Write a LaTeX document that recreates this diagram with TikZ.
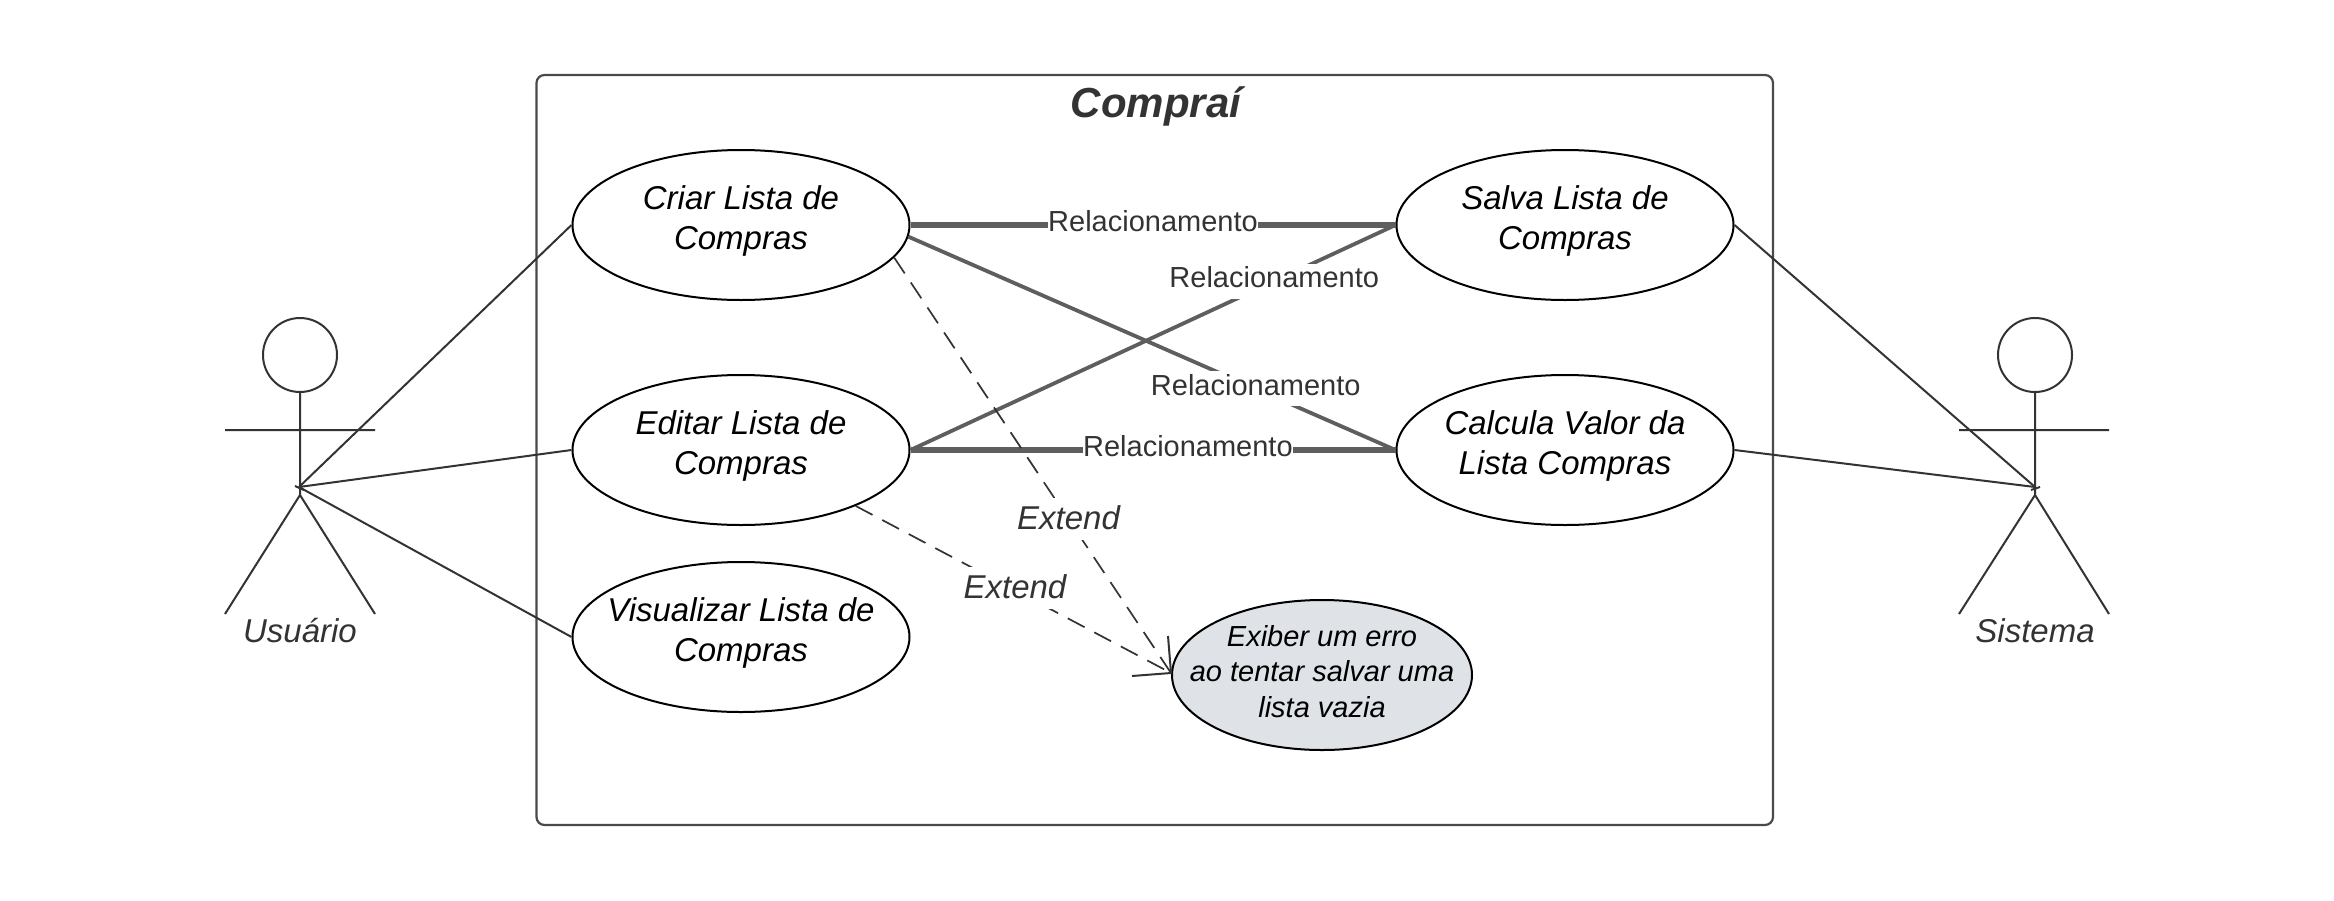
\documentclass[tikz,border=0pt]{standalone}
\usepackage{fontspec}
\setmainfont{Liberation Sans}
\usetikzlibrary{shapes.geometric}
\definecolor{inkdark}{HTML}{333333}
\definecolor{relgray}{HTML}{5E5E5E}
\definecolor{framegray}{HTML}{4A4A4A}
\definecolor{errfill}{HTML}{DFE3E8}
\tikzset{
  usecase/.style={draw=black,line width=1pt,fill=white,ellipse,minimum width=168.5pt,minimum height=75pt,inner xsep=-60pt,inner ysep=-30pt,align=center,
    font=\fontsize{16.5}{20}\selectfont\itshape,text=black,text height=32pt,text depth=8pt},
  errcase/.style={usecase,fill=errfill,minimum width=150pt,text height=50pt,text depth=8pt,font=\fontsize{14.5}{17.7}\selectfont\itshape},
  thinline/.style={draw=inkdark,line width=1pt},
  relline/.style={draw=relgray,line width=2.7pt},
  reldiag/.style={draw=relgray,line width=1.9pt},
  dashline/.style={draw=inkdark,line width=.85pt,dash pattern=on 9.5pt off 5.5pt},
  rellabel/.style={fill=white,inner sep=0pt,text=inkdark,text height=12pt,text depth=5.5pt,font=\fontsize{14.5}{17}\selectfont},
  extlabel/.style={fill=white,inner sep=0pt,text=inkdark,text height=15.5pt,text depth=5.5pt,font=\fontsize{16.5}{20}\selectfont\itshape},
  actorhead/.style={circle,draw=inkdark,line width=1pt,minimum size=37pt,inner sep=0pt},
  actorname/.style={text=inkdark,inner sep=0pt,font=\fontsize{16.5}{20}\selectfont\itshape},
}
\begin{document}
\begin{tikzpicture}[x=.5pt,y=-.5pt]
\useasboundingbox (0,0) rectangle (2334,900);
% system frame
\node[draw=framegray,line width=1.1pt,rounded corners=4pt,minimum width=618.25pt,minimum height=375pt,inner sep=0pt] (frame) at (1154.75,450) {};
\node[text=inkdark,inner sep=0pt,font=\fontsize{21}{24}\selectfont\bfseries\itshape] (title) at (1156,106) {Compraí};
% actors
\node[actorhead] (uhead) at (300,355) {};
\coordinate (uhand1) at (225,430);
\coordinate (uhand2) at (375,430);
\coordinate (uhip) at (300,495);
\coordinate (ufoot1) at (225,614);
\coordinate (ufoot2) at (375,614);
\coordinate (ujoin) at (299,487);
\coordinate (utick1) at (295,486);
\coordinate (utick2) at (304,490);
\draw[thinline] (uhead.south) -- (uhip) (uhand1) -- (uhand2) (ufoot1) -- (uhip) -- (ufoot2) (utick1) -- (utick2);
\node[actorname] (uname) at (300,631) {Usuário};
\node[actorhead] (shead) at (2035,355) {};
\coordinate (shand1) at (1959,430);
\coordinate (shand2) at (2109,430);
\coordinate (ship) at (2035,495);
\coordinate (sfoot1) at (1959,614);
\coordinate (sfoot2) at (2109,614);
\coordinate (sjoin) at (2035,487);
\coordinate (stick1) at (2031,490);
\coordinate (stick2) at (2040,487);
\draw[thinline] (shead.south) -- (ship) (shand1) -- (shand2) (sfoot1) -- (ship) -- (sfoot2) (stick1) -- (stick2);
\node[actorname] (sname) at (2035,631) {Sistema};
% use cases
\node[usecase] (criar) at (741,225) {Criar Lista de\\Compras};
\node[usecase] (editar) at (741,450) {Editar Lista de\\Compras};
\node[usecase] (visual) at (741,637) {Visualizar Lista de\\Compras};
\node[usecase] (salva) at (1565,225) {Salva Lista de\\Compras};
\node[usecase] (calcula) at (1565,450) {Calcula Valor da\\Lista Compras};
\node[errcase] (erro) at (1322,675) {Exiber um erro\\ao tentar salvar uma\\lista vazia};
% actor links
\draw[thinline] (ujoin) -- (criar.west);
\draw[thinline] (ujoin) -- (editar.west);
\draw[thinline] (ujoin) -- (visual.west);
\draw[thinline] (sjoin) -- (salva.east);
\draw[thinline] (sjoin) -- (calcula.east);
% relationships
\draw[relline] (criar.east) -- node[rellabel,pos=.5] (r1) {Relacionamento} (salva.west);
\draw[reldiag] (criar.-4.5) -- node[rellabel,pos=.713] (r3) {Relacionamento} (calcula.west);
\draw[reldiag] (editar.east) -- node[rellabel,pos=.75] (r2) {Relacionamento} (salva.west);
\draw[relline] (editar.east) -- node[rellabel,pos=.572] (r4) {Relacionamento} (calcula.west);
% extend links
\coordinate (tip) at (1171,673);
\coordinate (barb1) at (1132,676);
\coordinate (barb2) at (1168,636);
\draw[dashline] (criar.-12.8) -- node[extlabel,pos=.63] (e1) {Extend} (tip);
\draw[dashline] (editar.-26) -- node[extlabel,pos=.505,yshift=1pt] (e2) {Extend} (tip);
\draw[thinline] (barb1) -- (tip) -- (barb2);
\end{tikzpicture}
\end{document}
